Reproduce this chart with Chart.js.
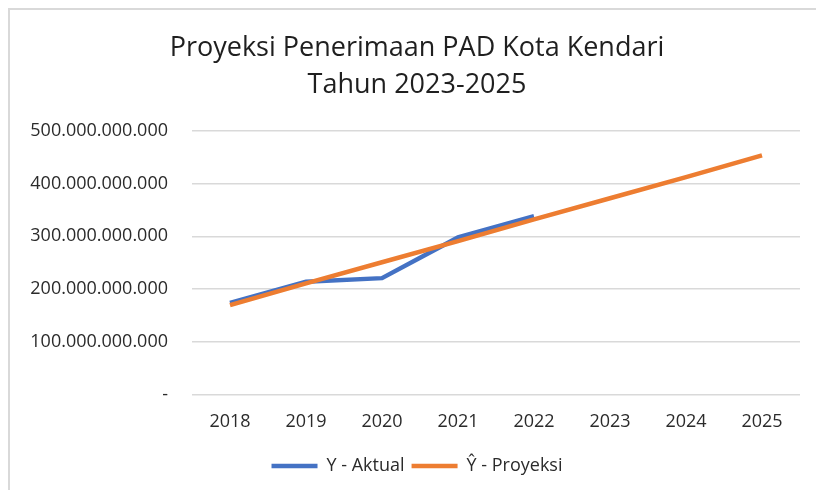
<!DOCTYPE html>
<html>
<head>
<meta charset="utf-8">
<script src="https://cdn.jsdelivr.net/npm/chart.js@4"></script>
<style>
  html, body { margin: 0; padding: 0; background: #fff; }
  #frame {
    position: absolute; left: 8px; top: 8px; width: 900px; height: 600px;
    border-left: 2px solid #d9d9d9; border-top: 2px solid #d9d9d9;
  }
  #chart { position: absolute; left: 0; top: 0; }
</style>
</head>
<body>
<div id="frame"></div>
<canvas id="chart" width="816" height="490"></canvas>
<script>
// data (Rupiah)
const years = ['2018', '2019', '2020', '2021', '2022', '2023', '2024', '2025'];
const aktual = [174e9, 214e9, 221e9, 298e9, 338e9, null, null, null];
const proyeksi = [170e9, 211e9, 251e9, 291e9, 332e9, 372e9, 412e9, 453e9];
const titleLines = ['Proyeksi Penerimaan PAD Kota Kendari', 'Tahun 2023-2025'];

const FONT = "'Open Sans', 'Liberation Sans', sans-serif";
const TXT = '#2b2b2b';

function fmt(v) {
  if (v === 0) return '-';
  return String(Math.round(v)).replace(/\B(?=(\d{3})+(?!\d))/g, '.');
}

// title and legend sit a bit right of the plot centre, like the Excel original
const shiftBlocks = {
  id: 'shiftBlocks',
  afterLayout(chart) {
    chart.titleBlock.left += 24;
    chart.legend.left += 24;
  },
};

new Chart(document.getElementById('chart'), {
  type: 'line',
  data: {
    labels: years,
    datasets: [
      {
        label: 'Y - Aktual',
        data: aktual,
        borderColor: '#4472c4',
        backgroundColor: '#4472c4',
        borderWidth: 4.5,
        pointRadius: 0,
        order: 1,
      },
      {
        label: 'Ŷ - Proyeksi',
        data: proyeksi,
        borderColor: '#ed7d31',
        backgroundColor: '#ed7d31',
        borderWidth: 4.5,
        pointRadius: 0,
        order: 0,
      },
    ],
  },
  plugins: [shiftBlocks],
  options: {
    responsive: false,
    animation: false,
    layout: { padding: { left: 10, right: 16, top: 0, bottom: 5 } },
    plugins: {
      title: {
        display: true,
        text: titleLines,
        color: '#1f1f1f',
        font: { family: FONT, size: 27, weight: 'normal', lineHeight: 1.4 },
        padding: { top: 29, bottom: 26 },
      },
      legend: {
        position: 'bottom',
        labels: {
          color: TXT,
          font: { family: FONT, size: 18 },
          usePointStyle: true,
          pointStyle: 'line',
          pointStyleWidth: 46,
          padding: 7,
          sort: (a, b) => a.datasetIndex - b.datasetIndex,
        },
      },
      tooltip: { enabled: false },
    },
    scales: {
      x: {
        offset: true,
        afterFit: s => { s.height = 55; },
        grid: { display: false, drawTicks: false },
        border: { display: false },
        ticks: { color: TXT, font: { family: FONT, size: 18 }, padding: 16 },
      },
      y: {
        min: 0,
        max: 500e9,
        afterFit: s => { s.width = 182; },
        grid: { color: '#d9d9d9', lineWidth: 1.5, drawTicks: false },
        border: { display: false },
        ticks: {
          stepSize: 100e9,
          color: TXT,
          font: { family: FONT, size: 18 },
          padding: 24,
          callback: fmt,
        },
      },
    },
  },
});
</script>
</body>
</html>
